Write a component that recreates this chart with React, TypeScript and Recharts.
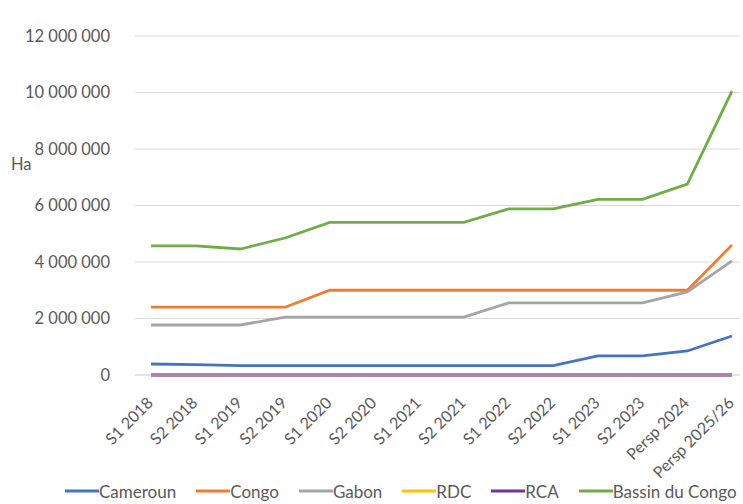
import { CartesianGrid, Legend, Line, LineChart, XAxis, YAxis } from 'recharts'

const periods = [
  'S1 2018', 'S2 2018', 'S1 2019', 'S2 2019', 'S1 2020', 'S2 2020', 'S1 2021',
  'S2 2021', 'S1 2022', 'S2 2022', 'S1 2023', 'S2 2023', 'Persp 2024', 'Persp 2025/26',
]

const cameroun = [390000, 370000, 330000, 330000, 330000, 330000, 330000, 330000, 330000, 330000, 680000, 680000, 850000, 1380000]
const congo = [2400000, 2400000, 2400000, 2400000, 3000000, 3000000, 3000000, 3000000, 3000000, 3000000, 3000000, 3000000, 3000000, 4600000]
const gabon = [1770000, 1770000, 1770000, 2050000, 2050000, 2050000, 2050000, 2050000, 2550000, 2550000, 2550000, 2550000, 2940000, 4040000]
const rdc = [0, 0, 0, 0, 0, 0, 0, 0, 0, 0, 0, 0, 0, 0]
const rca = [0, 0, 0, 0, 0, 0, 0, 0, 0, 0, 0, 0, 0, 0]
const bassin = [4570000, 4570000, 4460000, 4850000, 5400000, 5400000, 5400000, 5400000, 5880000, 5880000, 6220000, 6220000, 6760000, 10050000]

const yTicks = [0, 2000000, 4000000, 6000000, 8000000, 10000000, 12000000]

const series = [
  { key: 'cameroun', name: 'Cameroun', color: '#4472C4' },
  { key: 'congo', name: 'Congo', color: '#ED7D31' },
  { key: 'gabon', name: 'Gabon', color: '#A5A5A5' },
  { key: 'rdc', name: 'RDC', color: '#FFC000' },
  { key: 'rca', name: 'RCA', color: '#7030A0' },
  { key: 'bassin', name: 'Bassin du Congo', color: '#70AD47' },
]

const data = periods.map((period, i) => ({
  period,
  cameroun: cameroun[i],
  congo: congo[i],
  gabon: gabon[i],
  rdc: rdc[i],
  rca: rca[i],
  bassin: bassin[i],
}))

const font = 'Lato, "Open Sans", sans-serif'
const textColor = '#595959'

const formatNumber = (n: number) => String(n).replace(/\B(?=(\d{3})+(?!\d))/g, ' ')

const XTick = ({ x, y, payload }: any) => (
  <g transform={`translate(${x},${y})`}>
    <text
      x={3}
      y={21}
      transform="rotate(-45, 3, 21)"
      textAnchor="end"
      fill={textColor}
      fontSize={16}
      fontFamily={font}
    >
      {payload.value}
    </text>
  </g>
)

const LegendContent = () => (
  <div
    style={{
      height: 26,
      display: 'flex',
      alignItems: 'center',
      paddingLeft: 65,
      fontFamily: font,
      fontSize: 17,
      color: textColor,
      whiteSpace: 'nowrap',
    }}
  >
    {series.map((s) => (
      <div key={s.key} style={{ display: 'flex', alignItems: 'center', marginRight: 20 }}>
        <svg width={34} height={4}>
          <line x1={0} y1={2} x2={34} y2={2} stroke={s.color} strokeWidth={3} />
        </svg>
        <span>{s.name}</span>
      </div>
    ))}
  </div>
)

const HaLabel = () => (
  <text x={11} y={170} fill={textColor} fontSize={16.5} fontFamily={font}>
    Ha
  </text>
)

export default function App() {
  return (
    <div style={{ position: 'absolute', left: 0, top: 0, background: '#fff' }}>
      <LineChart width={743} height={504} data={data} margin={{ top: 36, right: 3, bottom: 0, left: 0 }}>
        <CartesianGrid vertical={false} stroke="#d9d9d9" />
        <XAxis
          dataKey="period"
          interval={0}
          height={103}
          tick={<XTick />}
          tickLine={false}
          axisLine={{ stroke: '#d9d9d9' }}
          padding={{ left: 16, right: 8 }}
        />
        <YAxis
          width={135}
          domain={[0, 12000000]}
          ticks={yTicks}
          tickFormatter={formatNumber}
          tickLine={false}
          axisLine={false}
          tickMargin={19}
          tick={{ fill: textColor, fontSize: 16.5, fontFamily: font }}
          label={{ value: 'Ha', content: <HaLabel /> }}
        />
        {series.map((s) => (
          <Line
            key={s.key}
            type="linear"
            dataKey={s.key}
            name={s.name}
            stroke={s.color}
            strokeWidth={2.8}
            dot={false}
            isAnimationActive={false}
          />
        ))}
        <Legend verticalAlign="bottom" content={<LegendContent />} />
      </LineChart>
    </div>
  )
}
